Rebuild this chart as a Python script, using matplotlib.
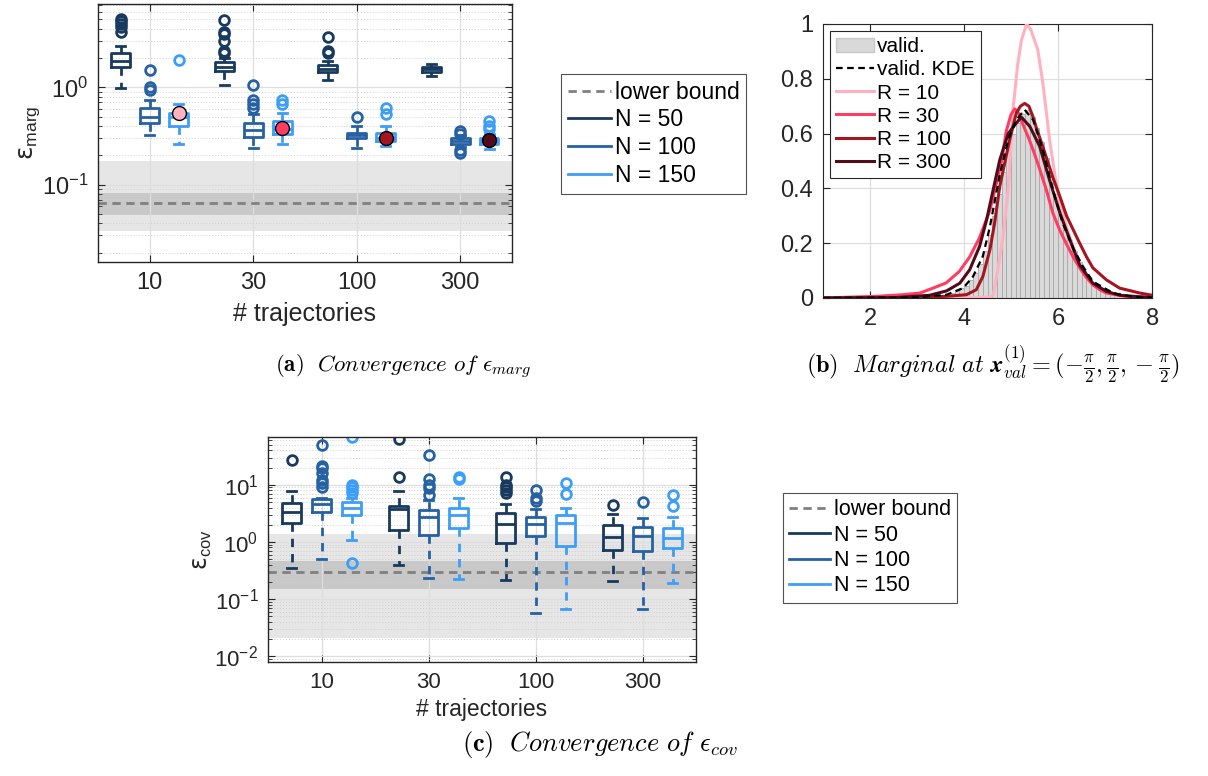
import matplotlib
matplotlib.use("Agg")
import matplotlib.pyplot as plt
import numpy as np
from matplotlib.lines import Line2D
from matplotlib.patches import Patch
from matplotlib.ticker import LogLocator, NullFormatter

plt.rcParams["font.family"] = ["Liberation Sans", "DejaVu Sans"]
plt.rcParams["mathtext.fontset"] = "dejavusans"

# ---- shared ----
traj_labels = ["10", "30", "100", "300"]
n_labels = ["N = 50", "N = 100", "N = 150"]
n_colors = ["#173a5e", "#2662a3", "#3d9ef7"]
r_labels = ["R = 10", "R = 30", "R = 100", "R = 300"]
r_colors = ["#ffb1c0", "#ff3d63", "#a3161f", "#530a19"]
n_offsets = [-0.28, 0.0, 0.28]

# ---- (a) marginal error, rows = N50, N100, N150 ; cols = 10, 30, 100, 300 ----
marg_q1 = [[1.60, 1.47, 1.45, 1.45], [0.43, 0.31, 0.30, 0.26], [0.40, 0.33, 0.28, 0.26]]
marg_med = [[1.88, 1.63, 1.56, 1.53], [0.50, 0.36, 0.32, 0.28], [0.50, 0.37, 0.30, 0.28]]
marg_q3 = [[2.25, 1.84, 1.70, 1.63], [0.62, 0.43, 0.34, 0.30], [0.55, 0.45, 0.34, 0.30]]
marg_lo = [[0.98, 1.06, 1.19, 1.31], [0.32, 0.24, 0.24, 0.245], [0.26, 0.26, 0.25, 0.23]]
marg_hi = [[2.63, 2.00, 1.88, 1.74], [0.74, 0.53, 0.40, 0.32], [0.67, 0.54, 0.40, 0.33]]
marg_fliers = [
    [[5.08, 4.76, 4.5, 4.2, 3.7], [4.9, 3.7, 3.5, 3.0, 2.34, 2.25], [3.33, 2.34, 2.25], []],
    [[1.49, 1.0, 0.94], [1.06, 0.74, 0.68, 0.62], [0.50], [0.355, 0.33, 0.225, 0.21]],
    [[1.9], [0.74, 0.68], [0.62, 0.53], [0.45, 0.40, 0.37]],
]
marg_kde_err = [0.54, 0.38, 0.30, 0.29]
marg_bound = 0.064
marg_band_inner = (0.049, 0.081)
marg_band_outer = (0.033, 0.173)

# ---- (c) covariance error ----
cov_q1 = [[2.19, 1.60, 0.94, 0.71], [3.32, 1.33, 1.29, 0.70], [3.02, 1.79, 0.85, 0.77]]
cov_med = [[3.36, 3.85, 2.04, 1.22], [4.58, 2.75, 2.10, 1.26], [3.95, 2.94, 2.15, 1.19]]
cov_q3 = [[4.83, 4.23, 3.28, 1.96], [5.55, 3.70, 2.79, 1.81], [4.97, 3.95, 3.02, 1.79]]
cov_lo = [[0.355, 0.40, 0.22, 0.207], [0.50, 0.237, 0.058, 0.067], [1.10, 0.228, 0.067, 0.194]]
cov_hi = [[7.85, 7.85, 4.71, 3.15], [6.0, 5.4, 3.85, 2.64], [5.77, 5.9, 4.0, 2.75]]
cov_fliers = [
    [[27.1], [62.5, 13.8], [13.8, 9.9, 9.0, 8.07, 7.2], [4.5]],
    [[49.8, 21.7, 19.4, 16.2, 12.1, 10.6, 9.0], [33.2, 12.6, 9.9, 8.65, 6.6], [8.07, 5.77, 5.25], [5.03]],
    [[68.0, 9.9, 9.0, 8.07, 7.2, 0.435], [13.8, 12.6], [10.6, 6.8], [6.6, 4.23]],
]
cov_bound = 0.30
cov_band_inner = (0.151, 0.46)
cov_band_outer = (0.0207, 1.36)

# ---- (b) marginal densities ----
hist_start = 3.6
hist_width = 0.1
hist_heights = [0.012, 0.018, 0.025, 0.035, 0.045, 0.065, 0.09, 0.125, 0.17, 0.23,
                0.30, 0.38, 0.46, 0.54, 0.60, 0.64, 0.67, 0.685, 0.66, 0.62,
                0.57, 0.51, 0.44, 0.38, 0.32, 0.26, 0.21, 0.17, 0.13, 0.10,
                0.075, 0.055, 0.042, 0.030, 0.022, 0.016, 0.011, 0.007, 0.004, 0.002]

kde_x = [1.0, 3.0, 3.63, 3.98, 4.19, 4.4, 4.55, 4.65, 4.76, 4.94, 5.11, 5.29, 5.47,
         5.68, 5.89, 6.1, 6.32, 6.53, 6.74, 7.17, 7.6, 8.0]
kde_y = [0.0, 0.002, 0.012, 0.036, 0.078, 0.152, 0.26, 0.35, 0.45, 0.577, 0.65, 0.687, 0.65,
         0.54, 0.395, 0.273, 0.182, 0.115, 0.06, 0.018, 0.004, 0.001]

r10_x = [1.0, 3.0, 4.3, 4.55, 4.62, 4.72, 4.83, 4.94, 5.04, 5.14, 5.22, 5.33, 5.42, 5.5,
         5.57, 5.68, 5.82, 5.95, 6.04, 6.18, 6.32, 6.46, 6.6, 6.8, 7.03, 7.3, 8.0]
r10_y = [0.0, 0.0, 0.002, 0.004, 0.01, 0.104, 0.225, 0.395, 0.687, 0.85, 0.94, 1.0, 0.98, 0.94,
         0.905, 0.78, 0.577, 0.43, 0.346, 0.26, 0.188, 0.13, 0.079, 0.04, 0.018, 0.006, 0.001]

r30_x = [1.0, 2.13, 2.7, 3.06, 3.34, 3.62, 3.9, 4.12, 4.33, 4.55, 4.69, 4.8, 4.9, 5.0, 5.08,
         5.16, 5.26, 5.36, 5.47, 5.61, 5.75, 5.89, 6.03, 6.17, 6.32, 6.46, 6.6, 6.74, 6.89,
         7.03, 7.45, 8.0]
r30_y = [0.0, 0.006, 0.012, 0.018, 0.036, 0.055, 0.097, 0.15, 0.22, 0.32, 0.42, 0.5, 0.61, 0.67,
         0.69, 0.675, 0.63, 0.59, 0.54, 0.47, 0.395, 0.31, 0.25, 0.2, 0.15, 0.11, 0.075, 0.048,
         0.03, 0.018, 0.006, 0.002]

r100_x = [1.0, 3.0, 3.63, 4.05, 4.26, 4.4, 4.55, 4.65, 4.76, 4.97, 5.11, 5.2, 5.29, 5.38,
          5.47, 5.54, 5.68, 5.89, 6.04, 6.18, 6.32, 6.46, 6.6, 6.74, 7.03, 7.31, 7.74, 8.0]
r100_y = [0.0, 0.002, 0.006, 0.012, 0.03, 0.078, 0.176, 0.273, 0.407, 0.577, 0.674, 0.70, 0.71,
          0.70, 0.66, 0.62, 0.55, 0.44, 0.37, 0.30, 0.25, 0.20, 0.152, 0.11, 0.066, 0.036,
          0.018, 0.01]

r300_x = [1.0, 2.5, 3.27, 3.63, 3.91, 4.12, 4.33, 4.48, 4.62, 4.76, 4.94, 5.11, 5.22, 5.4,
          5.61, 5.82, 6.04, 6.25, 6.46, 6.74, 7.03, 7.31, 8.0]
r300_y = [0.0, 0.001, 0.01, 0.026, 0.054, 0.103, 0.188, 0.285, 0.395, 0.504, 0.6, 0.638, 0.66,
          0.626, 0.553, 0.43, 0.31, 0.213, 0.12, 0.054, 0.024, 0.01, 0.001]

AX_COLOR = "#262626"
GRID_COLOR = "#dedede"


def style_log_axis(ax, tick_size):
    ax.set_yscale("log")
    ax.yaxis.set_minor_locator(LogLocator(base=10, subs=np.arange(2, 10)))
    ax.yaxis.set_minor_formatter(NullFormatter())
    ax.set_axisbelow(True)
    ax.grid(True, which="major", color=GRID_COLOR, lw=0.9)
    ax.grid(True, which="minor", axis="y", color="#cfcfcf", lw=0.7, ls=(0, (1, 2)))
    ax.tick_params(which="both", direction="in", top=True, right=True,
                   colors=AX_COLOR, labelsize=tick_size)
    ax.tick_params(which="major", length=5, pad=7)
    ax.tick_params(which="minor", length=3)
    ax.tick_params(axis="x", which="minor", bottom=False, top=False)
    for sp in ax.spines.values():
        sp.set_color(AX_COLOR)
        sp.set_linewidth(1.0)


def draw_boxes(ax, q1, med, q3, lo, hi, fliers):
    for i in range(3):
        stats = []
        for j in range(len(traj_labels)):
            stats.append(dict(q1=q1[i][j], med=med[i][j], q3=q3[i][j],
                              whislo=lo[i][j], whishi=hi[i][j], fliers=fliers[i][j]))
        c = n_colors[i]
        pos = [j + 1 + n_offsets[i] for j in range(len(traj_labels))]
        ax.bxp(stats, positions=pos, widths=0.18, capwidths=0.085, manage_ticks=False,
               boxprops=dict(color=c, lw=2),
               medianprops=dict(color=c, lw=2),
               whiskerprops=dict(color=c, lw=2, ls=(0, (3, 2.5))),
               capprops=dict(color=c, lw=2),
               flierprops=dict(marker="o", mfc="none", mec=c, mew=2, ms=7))


def draw_bound(ax, bound, inner, outer):
    ax.axhspan(outer[0], outer[1], color="#e6e6e6", lw=0, zorder=0.1)
    ax.axhspan(inner[0], inner[1], color="#c8c8c8", lw=0, zorder=0.2)
    ax.axhline(bound, color="#808080", lw=2, ls=(0, (3, 2)), zorder=1.5)


def box_legend(ax, anchor, size):
    handles = [Line2D([], [], color="#808080", lw=2, ls=(0, (3, 2)))]
    handles += [Line2D([], [], color=c, lw=2) for c in n_colors]
    leg = ax.legend(handles, ["lower bound"] + n_labels, loc="upper left",
                    bbox_to_anchor=anchor, bbox_transform=fig.transFigure,
                    fontsize=size, frameon=True, fancybox=False, borderaxespad=0,
                    handlelength=1.9, handletextpad=0.15, labelspacing=0.2,
                    borderpad=0.3)
    leg.get_frame().set_edgecolor(AX_COLOR)
    leg.get_frame().set_linewidth(0.8)


fig = plt.figure(figsize=(12.08, 7.76), dpi=100)

# ---------------- (a) ----------------
ax_a = fig.add_axes([0.0811, 0.6624, 0.3427, 0.3325])
style_log_axis(ax_a, 17)
draw_bound(ax_a, marg_bound, marg_band_inner, marg_band_outer)
draw_boxes(ax_a, marg_q1, marg_med, marg_q3, marg_lo, marg_hi, marg_fliers)
for j, v in enumerate(marg_kde_err):
    ax_a.plot(j + 1 + n_offsets[2], v, "o", ms=10, mfc=r_colors[j], mec="black",
              mew=1.0, zorder=5)
ax_a.set_xlim(0.5, 4.5)
ax_a.set_ylim(0.016, 7.2)
ax_a.set_xticks(range(1, 5))
ax_a.set_xticklabels(traj_labels)
ax_a.set_xlabel("# trajectories", fontsize=18, color=AX_COLOR, labelpad=6)
ax_a.set_ylabel(r"$\mathrm{\epsilon}_{\mathdefault{marg}}$", fontsize=18, color=AX_COLOR,
                labelpad=0)
box_legend(ax_a, (0.4644, 0.9046), 16.5)

# ---------------- (b) ----------------
ax_b = fig.add_axes([0.6813, 0.616, 0.2724, 0.3531])
edges = [hist_start + hist_width * k for k in range(len(hist_heights))]
ax_b.bar(edges, hist_heights, width=hist_width, align="edge", color="#d9d9d9",
         edgecolor="#a8a8a8", lw=0.6, zorder=1)
ax_b.plot(r10_x, r10_y, color=r_colors[0], lw=2.2, zorder=3)
ax_b.plot(r30_x, r30_y, color=r_colors[1], lw=2.2, zorder=3)
ax_b.plot(r100_x, r100_y, color=r_colors[2], lw=2.2, zorder=3)
ax_b.plot(r300_x, r300_y, color=r_colors[3], lw=2.2, zorder=3)
ax_b.plot(kde_x, kde_y, color="black", lw=1.6, ls=(0, (3, 2)), zorder=4)
ax_b.set_xlim(1, 8)
ax_b.set_ylim(0, 1)
ax_b.set_xticks([2, 4, 6, 8])
ax_b.set_yticks([0, 0.2, 0.4, 0.6, 0.8, 1.0])
ax_b.set_yticklabels(["0", "0.2", "0.4", "0.6", "0.8", "1"])
ax_b.set_axisbelow(True)
ax_b.grid(True, color=GRID_COLOR, lw=0.9)
ax_b.tick_params(direction="in", top=True, right=True, colors=AX_COLOR, labelsize=17,
                 length=5, pad=7)
for sp in ax_b.spines.values():
    sp.set_color(AX_COLOR)
b_handles = [Patch(facecolor="#d9d9d9", edgecolor="#c8c8c8"),
             Line2D([], [], color="black", lw=1.6, ls=(0, (3, 2)))]
b_handles += [Line2D([], [], color=c, lw=2.2) for c in r_colors]
leg_b = ax_b.legend(b_handles, ["valid.", "valid. KDE"] + r_labels, loc="upper left",
                    bbox_to_anchor=(0.6871, 0.96), bbox_transform=fig.transFigure,
                    fontsize=15, fancybox=False, borderaxespad=0, handlelength=1.8,
                    handletextpad=0.15, labelspacing=0.2, borderpad=0.3)
leg_b.get_frame().set_edgecolor(AX_COLOR)
leg_b.get_frame().set_linewidth(0.8)
leg_b.get_frame().set_alpha(1)

# ---------------- (c) ----------------
ax_c = fig.add_axes([0.2219, 0.1469, 0.3543, 0.29])
style_log_axis(ax_c, 16)
draw_bound(ax_c, cov_bound, cov_band_inner, cov_band_outer)
draw_boxes(ax_c, cov_q1, cov_med, cov_q3, cov_lo, cov_hi, cov_fliers)
ax_c.set_xlim(0.5, 4.5)
ax_c.set_ylim(0.0079, 69)
ax_c.set_xticks(range(1, 5))
ax_c.set_xticklabels(traj_labels)
ax_c.set_xlabel("# trajectories", fontsize=16.5, color=AX_COLOR, labelpad=4)
ax_c.set_ylabel(r"$\mathrm{\epsilon}_{\mathdefault{cov}}$", fontsize=17, color=AX_COLOR,
                labelpad=0)
box_legend(ax_c, (0.6482, 0.3647), 15.5)

# ---------------- captions ----------------
fig.text(0.3336, 0.527, r"$\mathbf{(a)}\ \ \mathit{Convergence\ of}\ \epsilon_{marg}$",
         ha="center", va="center", fontsize=16.5, math_fontfamily="cm")
fig.text(0.8216, 0.5296,
         r"$\mathbf{(b)}\ \ \mathit{Marginal\ at}\ \mathbfit{x}_{val}^{(1)}"
         r" = (-\frac{\pi}{2}, \frac{\pi}{2}, -\frac{\pi}{2})$",
         ha="center", va="center", fontsize=17.5, math_fontfamily="cm")
fig.text(0.4963, 0.04, r"$\mathbf{(c)}\ \ \mathit{Convergence\ of}\ \epsilon_{cov}$",
         ha="center", va="center", fontsize=19, math_fontfamily="cm")

fig.savefig("out.png", dpi=100)
